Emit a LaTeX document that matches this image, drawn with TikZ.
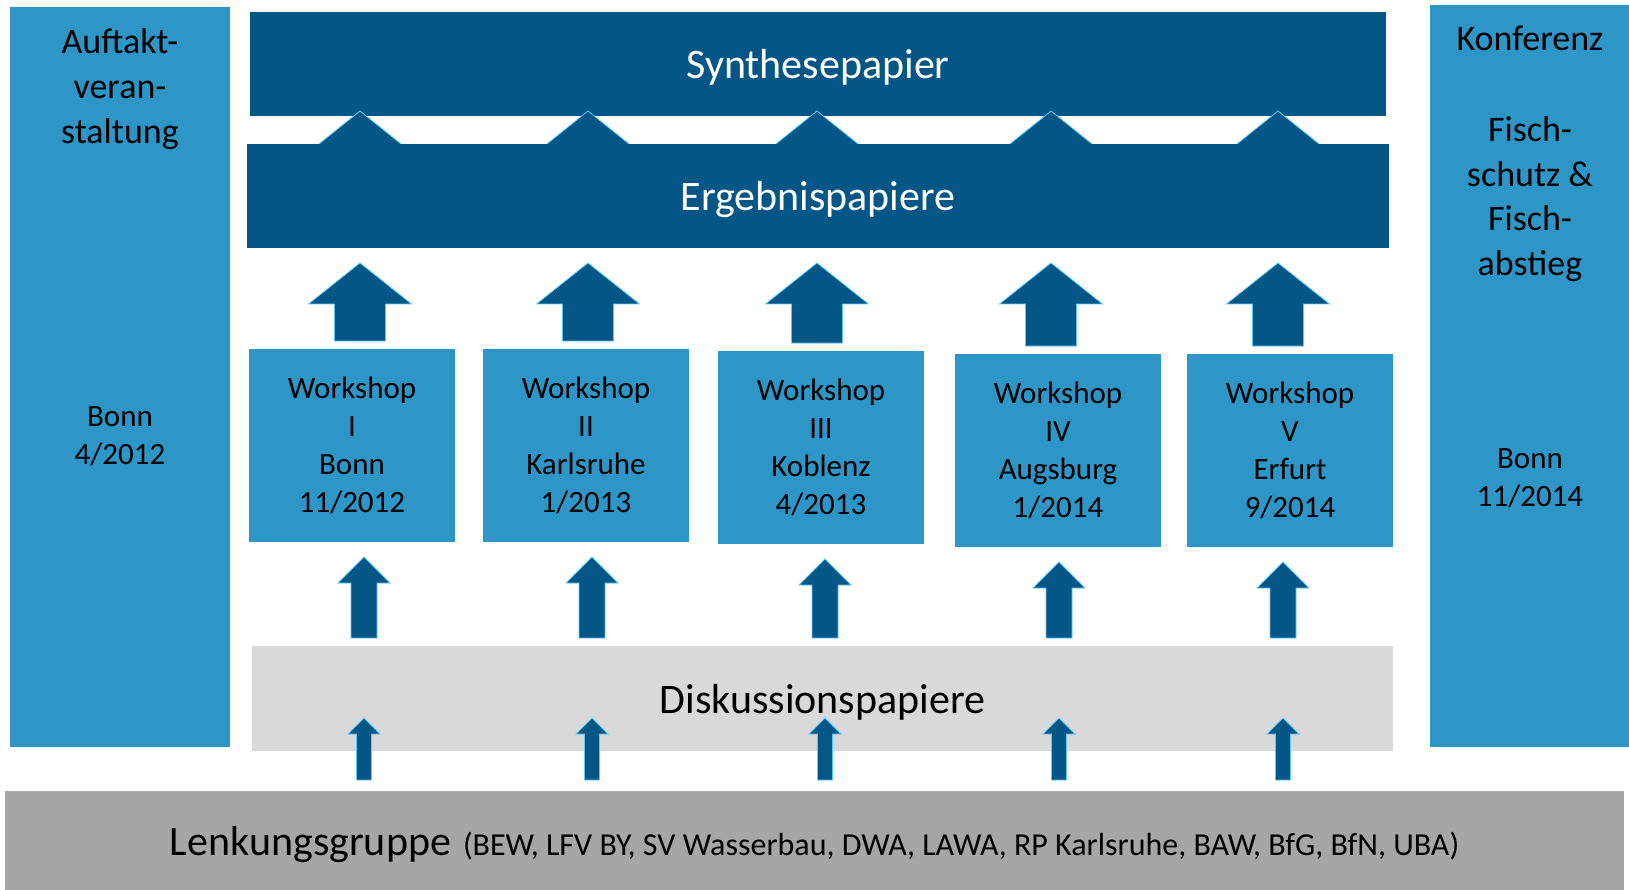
\documentclass[tikz,border=0pt]{standalone}
\usepackage{fontspec}
\setmainfont{Carlito}
\usetikzlibrary{calc}
\usetikzlibrary{positioning}

\definecolor{darkblue}{RGB}{3,86,133}
\definecolor{midblue}{RGB}{46,150,198}
\definecolor{edgeblue}{RGB}{94,200,245}
\definecolor{lightgrey}{RGB}{217,217,217}
\definecolor{midgrey}{RGB}{166,166,166}

% #1 x, #2 from anchor, #3 to anchor, #4 gap at start, #5 gap at tip,
% #6 shaft half width, #7 head half width, #8 head length
\newcommand{\blockarrow}[8]{%
  \filldraw [fatarrow] let \p1=(#2), \p2=(#3), \p3=(#1,0) in
    (\x3-#6pt,\y1+#4pt) -- (\x3+#6pt,\y1+#4pt) -- (\x3+#6pt,\y2-#5pt-#8pt)
    -- (\x3+#7pt,\y2-#5pt-#8pt) -- (\x3,\y2-#5pt) -- (\x3-#7pt,\y2-#5pt-#8pt)
    -- (\x3-#6pt,\y2-#5pt-#8pt) -- cycle;}

\begin{document}
\begin{tikzpicture}[x=1pt,y=-1pt,
    box/.style={anchor=north west, inner sep=0pt, outer sep=0pt, align=center},
    darkbox/.style={box, fill=darkblue, text=white, text depth=0pt,
      font=\fontsize{42}{50}\selectfont},
    sidebox/.style={box, fill=midblue},
    shopbox/.style={box, fill=midblue, minimum width=206pt, minimum height=193pt,
      font=\fontsize{31}{38}\selectfont},
    sidetext/.style={align=center, font=\fontsize{36}{44.7}\selectfont},
    placetext/.style={align=center, font=\fontsize{31}{37.5}\selectfont},
    fatarrow/.style={fill=darkblue, draw=edgeblue, line width=0.8pt, line join=miter}]
    \useasboundingbox (0,0) rectangle (1629,890);

    % side columns
    \node [sidebox, minimum width=220pt, minimum height=740pt] (auftakt) at (10,7) {};
    \node [sidebox, minimum width=199pt, minimum height=742pt] (konferenz) at (1430,5) {};
    \node [sidetext] (auftakttitle) at (120,89) {Auftakt-\\veran-\\staltung};
    \node [placetext] (auftaktplace) at (120,436) {Bonn\\4/2012};
    \node [sidetext] (konferenztitle) at (1530,38) {Konferenz};
    \node [sidetext] (konferenztopic) at (1530,199) {Fisch-\\schutz \&\\Fisch-\\abstieg};
    \node [placetext] (konferenzplace) at (1530,478) {Bonn\\11/2014};

    % papers
    \node [darkbox, minimum width=1136pt, minimum height=104pt] (s) at (250,12) {Synthesepapier};
    \foreach \xa in {360,588,817,1051,1278}
      \blockarrow{\xa}{247,144}{s.south}{-10}{-5}{41}{41}{33};
    \node [darkbox, minimum width=1142pt, minimum height=104pt] (e) at (247,144) {Ergebnispapiere};

    % workshops
    \node [shopbox] (w1) at (249,349) {Workshop\\I\\Bonn\\11/2012};
    \node [shopbox] (w2) at (483,349) {Workshop\\II\\Karlsruhe\\1/2013};
    \node [shopbox] (w3) at (718,351) {Workshop\\III\\Koblenz\\4/2013};
    \node [shopbox] (w4) at (955,354) {Workshop\\IV\\Augsburg\\1/2014};
    \node [shopbox] (w5) at (1187,354) {Workshop\\V\\Erfurt\\9/2014};

    \node [box, fill=lightgrey, minimum width=1141pt, minimum height=105pt, text depth=0pt,
      font=\fontsize{42}{50}\selectfont] (d) at (252,646) {Diskussionspapiere};
    \node [box, fill=midgrey, minimum width=1619pt, minimum height=99pt, text depth=0pt] (l) at (5,791)
      {{\fontsize{42}{50}\selectfont Lenkungsgruppe}\hspace{12pt}{\fontsize{32}{38}\selectfont (BEW, LFV BY, SV Wasserbau, DWA, LAWA, RP Karlsruhe, BAW, BfG, BfN, UBA)}};

    % arrows
    \foreach \i/\xa/\xb in {1/360/364, 2/588/592, 3/817/825, 4/1051/1059, 5/1278/1283} {
      \blockarrow{\xa}{w\i.north}{e.south}{8}{15}{25.5}{51.5}{41}
      \blockarrow{\xb}{d.north}{w\i.south}{8}{15}{13}{26}{26}
      \blockarrow{\xb}{l.north}{d.south}{11}{-33}{7.5}{16}{16}
    }
\end{tikzpicture}
\end{document}
